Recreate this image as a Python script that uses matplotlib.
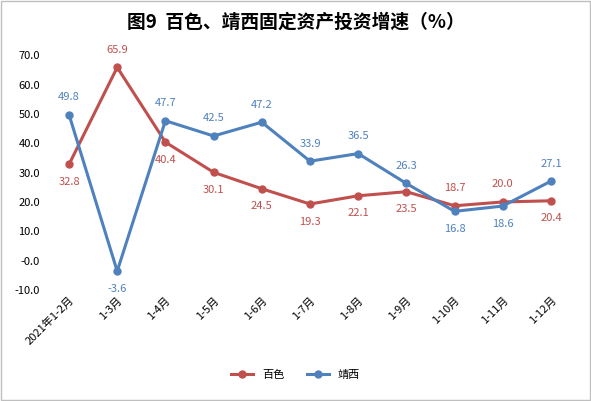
import matplotlib
matplotlib.use("Agg")
import matplotlib.pyplot as plt

plt.rcParams['font.family'] = ['Noto Sans CJK SC', 'DejaVu Sans']

cats = ["2021年1-2月", "1-3月", "1-4月", "1-5月", "1-6月", "1-7月", "1-8月", "1-9月", "1-10月", "1-11月", "1-12月"]
baise = [32.8, 65.9, 40.4, 30.1, 24.5, 19.3, 22.1, 23.5, 18.7, 20.0, 20.4]
jingxi = [49.8, -3.6, 47.7, 42.5, 47.2, 33.9, 36.5, 26.3, 16.8, 18.6, 27.1]
baise_pos = ['b', 't', 'b', 'b', 'b', 'b', 'b', 'b', 't', 't', 'b']
jingxi_pos = ['t', 'b', 't', 't', 't', 't', 't', 't', 'b', 'b', 't']
yticks = [-10, 0, 10, 20, 30, 40, 50, 60, 70]
ylabels = ["-10.0", "-0.0", "10.0", "20.0", "30.0", "40.0", "50.0", "60.0", "70.0"]

red = '#C0504D'
blue = '#4F81BD'

fig = plt.figure(figsize=(5.91, 4.01), dpi=100)
fig.patches.append(plt.Rectangle((0.002, 0.002), 0.996, 0.996, transform=fig.transFigure,
                                 fill=False, edgecolor='#BFBFBF', lw=1))
ax = fig.add_axes([0.076, 0.277, 0.897, 0.585])
x = list(range(len(cats)))
ax.plot(x, baise, color=red, lw=2.2, marker='o', ms=5, label='百色')
ax.plot(x, jingxi, color=blue, lw=2.2, marker='o', ms=5, label='靖西')
for xs, vals, pos, c in [(x, baise, baise_pos, red), (x, jingxi, jingxi_pos, blue)]:
    for xi, v, p in zip(xs, vals, pos):
        off = 9 if p == 't' else -9
        ax.annotate(f"{v:.1f}", (xi, v), xytext=(0, off), textcoords='offset points',
                    ha='center', va='bottom' if p == 't' else 'top', fontsize=8, color=c)
ax.set_ylim(-10, 70)
ax.set_yticks(yticks)
ax.set_yticklabels(ylabels, fontsize=8)
ax.set_xlim(-0.5, len(cats) - 0.5)
ax.set_xticks(x)
ax.set_xticklabels(cats, rotation=45, ha='right', rotation_mode='anchor', fontsize=8)
for s in ['top', 'right', 'left', 'bottom']:
    ax.spines[s].set_visible(False)
ax.tick_params(axis='both', length=0)
fig.text(0.5, 0.945, "图9  百色、靖西固定资产投资增速（%）", ha='center', va='center',
         fontsize=13.5, fontweight='bold')
fig.legend(loc='center', bbox_to_anchor=(0.5, 0.065), ncol=2, frameon=False, fontsize=8)
fig.savefig("out.png", dpi=100)
